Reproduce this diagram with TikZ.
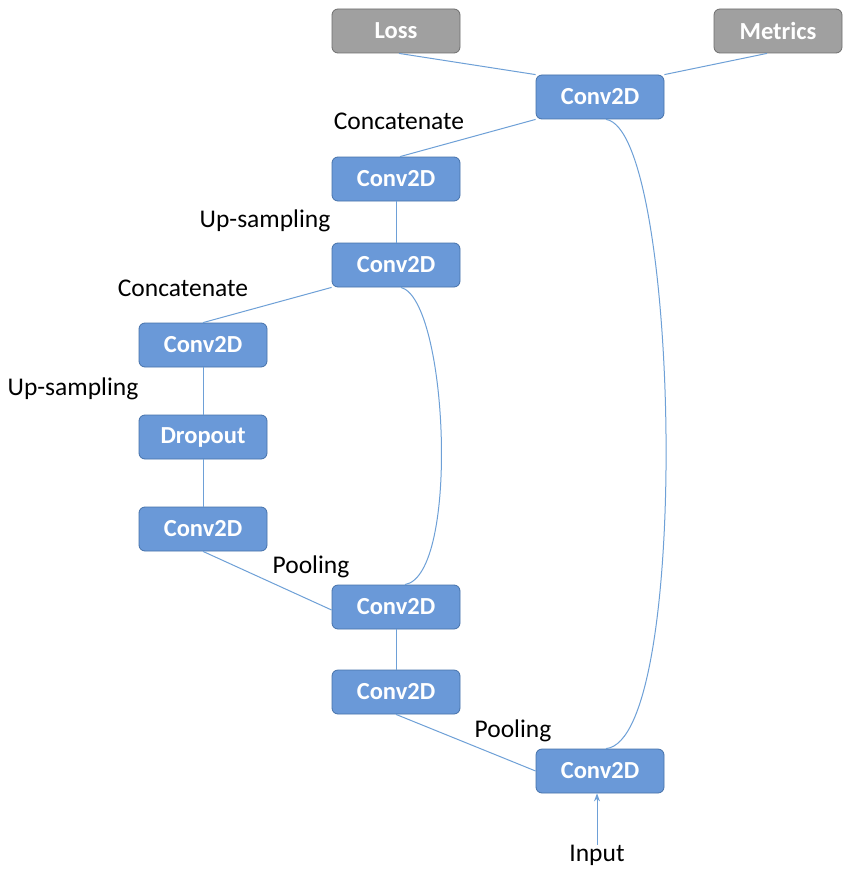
\documentclass[tikz,border=0pt]{standalone}
\usepackage{fontspec}
\setmainfont{Carlito}
\usetikzlibrary{arrows.meta}
\definecolor{boxblue}{RGB}{106,153,216}
\definecolor{boxblueline}{RGB}{70,114,170}
\definecolor{boxgray}{RGB}{160,160,160}
\definecolor{boxgrayline}{RGB}{110,110,110}
\definecolor{linkblue}{RGB}{110,160,215}
\tikzset{
  layer/.style={draw=boxblueline, fill=boxblue, rounded corners=6pt, minimum width=128pt, minimum height=44pt, inner sep=0pt, text=white, font=\fontsize{24.5}{28}\selectfont\bfseries, line width=0.8pt},
  outbox/.style={layer, draw=boxgrayline, fill=boxgray},
  lbl/.style={inner sep=0pt, text=black, font=\fontsize{25.5}{29}\selectfont},
  link/.style={draw=linkblue, line width=1pt}
}
\begin{document}
\begin{tikzpicture}[x=1pt,y=-1pt]
\useasboundingbox (0,0) rectangle (850,872);
\fill[white] (0,0) rectangle (850,872);
\node[outbox] (loss) at (396,31) {Loss};
\node[outbox] (metrics) at (778,31) {Metrics};
\node[layer] (c1) at (600,97) {Conv2D};
\node[layer] (c2) at (396,179) {Conv2D};
\node[layer] (c3) at (396,265) {Conv2D};
\node[layer] (c4) at (203,345) {Conv2D};
\node[layer] (drop) at (203,437) {Dropout};
\node[layer] (c5) at (203,529) {Conv2D};
\node[layer] (c6) at (396,607) {Conv2D};
\node[layer] (c7) at (396,692) {Conv2D};
\node[layer] (c8) at (600,771) {Conv2D};
\node[lbl] (input) at (597,855) {Input};
\node[lbl] (l1) at (399,121) {Concatenate};
\node[lbl] (l2) at (265,221) {Up-sampling};
\node[lbl] (l3) at (183,288) {Concatenate};
\node[lbl] (l4) at (73,389) {Up-sampling};
\node[lbl] (l5) at (311,567) {Pooling};
\node[lbl] (l6) at (513,731) {Pooling};
\draw[link] ([xshift=3pt]loss.south) -- (c1.north west);
\draw[link] ([xshift=-11pt]metrics.south) -- (c1.north east);
\draw[link] (c1.south west) -- ([xshift=4pt]c2.north);
\draw[link] (c2.south) -- (c3.north);
\draw[link] (c3.south west) -- (c4.north);
\draw[link] (c4.south) -- (drop.north);
\draw[link] (drop.south) -- (c5.north);
\draw[link] (c5.south) -- ([yshift=-3pt]c6.west);
\draw[link] (c6.south) -- (c7.north);
\draw[link] (c7.south) -- (c8.west);
\draw[link] ([xshift=5pt]c3.south) .. controls (448,300) and (460,575) .. ([xshift=9pt]c6.north);
\draw[link] ([xshift=6pt]c1.south) .. controls (680,130) and (692,740) .. ([xshift=6pt]c8.north);
\draw[link, -{Stealth[length=8pt,width=6pt]}] (input.north) -- (input.north |- c8.south);
\end{tikzpicture}
\end{document}
